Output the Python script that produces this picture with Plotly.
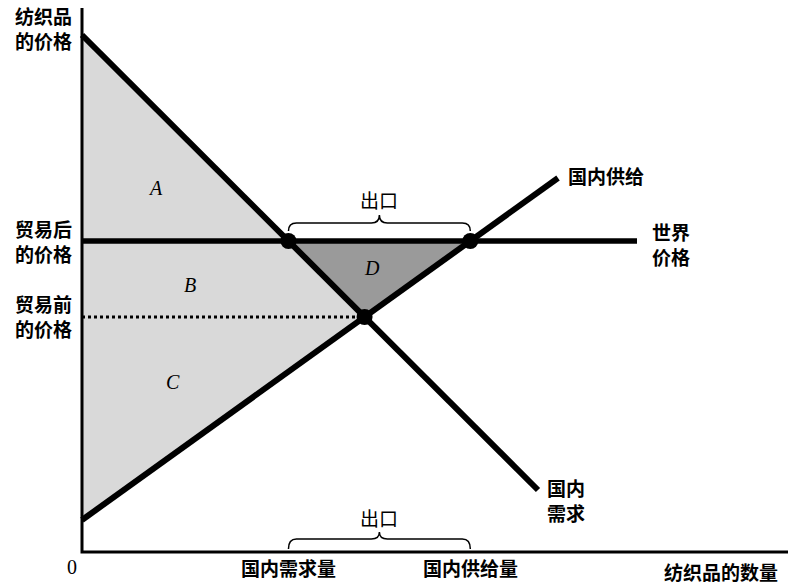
import plotly.graph_objects as go

# ---- data (quantity / price units of the diagram) ----
demand_q = [0, 456]
demand_p = [517, 62]
supply_q = [0, 476]
supply_p = [32, 374]
world_price = 311
world_line_q = [0, 555]
area_labels = ["A", "B", "C", "D"]
area_q = [73, 108, 91, 290]
area_p = [364, 267, 170, 284]

# ---- derived values from the lines ----
d_slope = (demand_p[1] - demand_p[0]) / (demand_q[1] - demand_q[0])
s_slope = (supply_p[1] - supply_p[0]) / (supply_q[1] - supply_q[0])
q_eq = (supply_p[0] - demand_p[0]) / (d_slope - s_slope)
p_eq = demand_p[0] + d_slope * q_eq
q_d_world = (world_price - demand_p[0]) / d_slope
q_s_world = (world_price - supply_p[0]) / s_slope

CJK = "Noto Sans CJK SC"
fig = go.Figure()

# light shaded region A+B+C
fig.add_trace(go.Scatter(x=[0, q_eq, 0, 0], y=[demand_p[0], p_eq, supply_p[0], demand_p[0]],
                         fill="toself", fillcolor="#d9d9d9", line=dict(width=0),
                         mode="lines", hoverinfo="skip", showlegend=False))
# dark region D
fig.add_trace(go.Scatter(x=[q_d_world, q_s_world, q_eq, q_d_world],
                         y=[world_price, world_price, p_eq, world_price],
                         fill="toself", fillcolor="#9a9a9a", line=dict(width=0),
                         mode="lines", hoverinfo="skip", showlegend=False))
# pre-trade price dotted
fig.add_trace(go.Scatter(x=[0, q_eq], y=[p_eq, p_eq], mode="lines",
                         line=dict(color="black", width=3, dash="dot"), showlegend=False))
# world price
fig.add_trace(go.Scatter(x=world_line_q, y=[world_price, world_price], mode="lines",
                         line=dict(color="black", width=5.5), showlegend=False))
# demand & supply
fig.add_trace(go.Scatter(x=demand_q, y=demand_p, mode="lines",
                         line=dict(color="black", width=6), showlegend=False))
fig.add_trace(go.Scatter(x=supply_q, y=supply_p, mode="lines",
                         line=dict(color="black", width=6), showlegend=False))
# axes
fig.add_trace(go.Scatter(x=[0, 0, 720], y=[544, 0, 0], mode="lines",
                         line=dict(color="black", width=3), showlegend=False))
# dots
fig.add_trace(go.Scatter(x=[q_d_world, q_s_world, q_eq], y=[world_price, world_price, p_eq],
                         mode="markers", marker=dict(color="black", size=16), showlegend=False))


def brace(x1, x2, y0, y1, ytip):
    xm = (x1 + x2) / 2
    r = 8
    return (f"M {x1},{y0} Q {x1},{y1} {x1 + r},{y1} L {xm - r},{y1} "
            f"Q {xm},{y1} {xm},{ytip} Q {xm},{y1} {xm + r},{y1} "
            f"L {x2 - r},{y1} Q {x2},{y1} {x2},{y0}")


fig.add_shape(type="path", path=brace(q_d_world, q_s_world, 321, 329, 337),
              line=dict(color="black", width=1.5))
fig.add_shape(type="path", path=brace(q_d_world, q_s_world, 3, 13, 20),
              line=dict(color="black", width=1.5))

ann = []


def txt(x, y, t, size=19, xa="center", ya="middle", family=CJK, weight="bold", style="normal"):
    ann.append(dict(x=x, y=y, text=t, showarrow=False, xanchor=xa, yanchor=ya,
                    font=dict(family=family, size=size, color="black", weight=weight, style=style)))


txt(-8, 524, "纺织品<br>的价格", xa="right")
txt(-8, world_price, "贸易后<br>的价格", xa="right")
txt(-8, p_eq + 1, "贸易前<br>的价格", xa="right")
txt(-10, -15, "0", size=20, family="Liberation Serif", weight="normal")
txt(q_d_world, -15, "国内需求量")
txt(q_s_world, -15, "国内供给量")
txt(698, -19, "纺织品的数量", xa="right")
txt(484, 377, "国内供给", xa="left")
txt(568, 308, "世界<br>价格", xa="left")
txt(463, 52, "国内<br>需求", xa="left")
txt((q_d_world + q_s_world) / 2, 353, "出口", weight="normal")
txt((q_d_world + q_s_world) / 2, 35, "出口", weight="normal")
for lab, q, p in zip(area_labels, area_q, area_p):
    txt(q, p, lab, size=20, family="Liberation Serif", weight="normal", style="italic")

fig.update_layout(
    width=788, height=586, margin=dict(l=0, r=0, t=0, b=0),
    paper_bgcolor="white", plot_bgcolor="white",
    xaxis=dict(range=[-82, 706], visible=False, fixedrange=True),
    yaxis=dict(range=[-34, 552], visible=False, fixedrange=True),
    annotations=ann, showlegend=False,
)
fig.write_html("out.html")
